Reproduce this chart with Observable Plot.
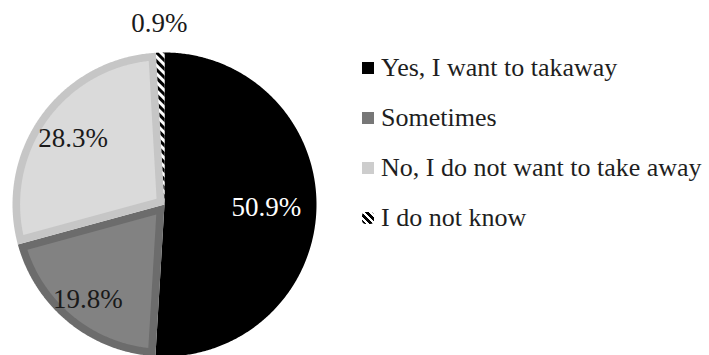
<!DOCTYPE html>
<html><head><meta charset="utf-8">
<script src="https://cdn.jsdelivr.net/npm/d3@7"></script>
<script src="https://cdn.jsdelivr.net/npm/@observablehq/plot@0.6"></script>
<style>
html,body{margin:0;padding:0;background:#fff;}
#wrap{position:relative;width:709px;height:355px;overflow:hidden;}
#legend{position:absolute;left:362px;top:43px;font-family:"Liberation Serif","Times New Roman",Times,"DejaVu Serif",serif;font-size:26px;color:#1e1e1e;}
.row{display:flex;align-items:center;height:50px;white-space:nowrap;}
.sw{width:12px;height:12px;margin-right:7px;flex:none;}
</style></head><body><div id="wrap"><div id="chart"></div><div id="legend"></div></div>
<script>
// ---- data ----
const categories = ["Yes, I want to takaway", "Sometimes", "No, I do not want to take away", "I do not know"];
const percents = [50.9, 19.8, 28.3, 0.9];
const labels = ["50.9%", "19.8%", "28.3%", "0.9%"];

// ---- styles / layout ----
const outerFill = ["#000000", "#6c6c6c", "#c6c6c6", "url(#hatch)"];
const innerFill = [null, "#828282", "#dadada", null];
const swatchCss = ["#000", "#777", "#cdcdcd", "repeating-linear-gradient(45deg,#000 0 3px,#fff 3px 5px)"];
const labelColor = ["#ffffff", "#1a1a1a", "#1a1a1a", "#1a1a1a"];
const labelRadius = [0.67, 0.80, 0.74, 1.19];
const bevel = 0.05;
const serif = "'Liberation Serif', 'Times New Roman', Times, 'DejaVu Serif', serif";

const arcs = d3.pie().sort(null).value(d => d)(percents);
const pt = (a, r) => ({x: r * Math.sin(a), y: r * Math.cos(a)});

const outerPts = [], innerPts = [];
arcs.forEach((p, i) => {
  const a0 = p.startAngle, a1 = p.endAngle;
  const n = Math.max(2, Math.ceil((a1 - a0) / (Math.PI / 360)));
  outerPts.push({slice: i, fill: outerFill[i], ...pt(0, 0)});
  for (let k = 0; k <= n; k++) outerPts.push({slice: i, fill: outerFill[i], ...pt(a0 + (a1 - a0) * k / n, 1)});
  if (innerFill[i]) {
    const th = a1 - a0, R = 1 - bevel, dl = Math.asin(bevel / R);
    innerPts.push({slice: i, fill: innerFill[i], ...pt((a0 + a1) / 2, bevel / Math.sin(th / 2))});
    for (let k = 0; k <= n; k++) innerPts.push({slice: i, fill: innerFill[i], ...pt(a0 + dl + (th - 2 * dl) * k / n, R)});
  }
});
const labelData = arcs.map((p, i) => ({text: labels[i], color: labelColor[i], ...pt((p.startAngle + p.endAngle) / 2, labelRadius[i])}));

const svg = Plot.plot({
  width: 709, height: 355,
  marginLeft: 12, marginRight: 393, marginTop: 52, marginBottom: 0,
  x: {domain: [-1, 1], axis: null},
  y: {domain: [-151 / 152, 1], axis: null},
  color: {type: "identity"},
  style: {fontFamily: serif},
  marks: [
    Plot.line(outerPts, {x: "x", y: "y", z: "slice", fill: "fill", stroke: "none", curve: "linear-closed"}),
    Plot.line(innerPts, {x: "x", y: "y", z: "slice", fill: "fill", stroke: "none", curve: "linear-closed"}),
    Plot.text(labelData, {x: "x", y: "y", text: "text", fill: "color", fontSize: 27, fontFamily: serif})
  ]
});
const defs = document.createElementNS("http://www.w3.org/2000/svg", "defs");
defs.innerHTML = '<pattern id="hatch" patternUnits="userSpaceOnUse" width="6" height="6" patternTransform="rotate(-45)"><rect width="6" height="6" fill="#fff"/><rect width="3" height="6" fill="#000"/></pattern>';
svg.insertBefore(defs, svg.firstChild);
document.getElementById("chart").appendChild(svg);

const legend = document.getElementById("legend");
categories.forEach((c, i) => {
  const row = document.createElement("div"); row.className = "row";
  const sw = document.createElement("span"); sw.className = "sw"; sw.style.background = swatchCss[i];
  if (i === 3) sw.style.borderRadius = "4px";
  const t = document.createElement("span"); t.textContent = c;
  row.appendChild(sw); row.appendChild(t); legend.appendChild(row);
});
</script></body></html>
